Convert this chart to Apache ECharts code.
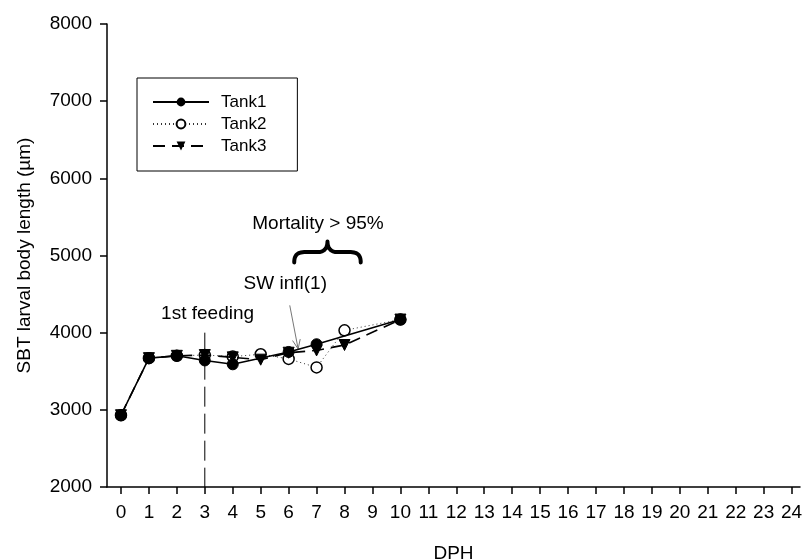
<!DOCTYPE html>
<html>
<head>
<meta charset="utf-8">
<script src="https://cdn.jsdelivr.net/npm/echarts@6/dist/echarts.min.js"></script>
<style>
  html, body { margin: 0; padding: 0; background: #ffffff; }
  #chart { width: 802px; height: 560px; }
</style>
</head>
<body>
<div id="chart"></div>
<script>
// Larval body length by days post hatch (DPH), three rearing tanks
const dph1  = [0, 1, 2, 3, 4, 6, 7, 10];
const tank1 = [2930, 3670, 3700, 3640, 3590, 3750, 3850, 4170];

const dph2  = [0, 1, 2, 3, 4, 5, 6, 7, 8, 10];
const tank2 = [2930, 3670, 3700, 3710, 3690, 3720, 3660, 3550, 4030, 4170];

const dph3  = [0, 1, 2, 3, 4, 5, 6, 7, 8, 10];
const tank3 = [2930, 3670, 3700, 3710, 3680, 3650, 3740, 3770, 3840, 4170];

const dphTicks = [0, 1, 2, 3, 4, 5, 6, 7, 8, 9, 10, 11, 12, 13, 14, 15, 16, 17, 18, 19, 20, 21, 22, 23, 24];

// first feeding marker (day, from length, to length)
const feedingDay = 3;
const feedingSpan = [4000, 2000];

// text notes placed in data units (day, length)
const noteTexts = ['1st feeding', 'SW infl(1)', 'Mortality > 95%'];
const noteDays = [3.1, 5.88, 7.05];
const noteLengths = [4250, 4640, 5405];

// swim-bladder inflation arrow and mortality brace, in data units
const arrowFrom = [6.04, 4354];
const arrowTo = [6.34, 3790];
const braceLeft = [6.2, 4910];
const braceRight = [8.58, 5180];

const FONT = '"Liberation Sans", Arial, sans-serif';
const pairs = (xs, ys) => xs.map((x, i) => [x, ys[i]]);

const chart = echarts.init(document.getElementById('chart'), null, { renderer: 'canvas' });

chart.setOption({
  animation: false,
  backgroundColor: '#ffffff',
  textStyle: { fontFamily: FONT, color: '#000' },
  grid: { left: 107, right: 2, top: 24, bottom: 73, containLabel: false, outerBoundsMode: 'none' },
  legend: {
    data: ['Tank1', 'Tank2', 'Tank3'],
    orient: 'vertical',
    left: 137, top: 78,
    itemWidth: 56, itemHeight: 11, itemGap: 4,
    padding: [15, 31, 16, 15],
    borderColor: '#000', borderWidth: 1,
    textStyle: { fontFamily: FONT, fontSize: 17, lineHeight: 18, color: '#000', padding: [0, 0, 0, 7] }
  },
  xAxis: {
    type: 'value', min: -0.5, max: 24.3,
    name: 'DPH', nameLocation: 'middle', nameGap: 57,
    nameTextStyle: { fontFamily: FONT, fontSize: 19, color: '#000' },
    axisLine: { show: true, onZero: false, lineStyle: { color: '#000', width: 1.5 } },
    axisTick: { show: true, length: 7, lineStyle: { color: '#000', width: 1.5 }, customValues: dphTicks },
    axisLabel: { fontFamily: FONT, fontSize: 19, color: '#000', margin: 16, customValues: dphTicks },
    splitLine: { show: false }
  },
  yAxis: {
    type: 'value', min: 2000, max: 8000, interval: 1000,
    name: 'SBT larval body length (µm)', nameLocation: 'middle', nameGap: 73,
    nameTextStyle: { fontFamily: FONT, fontSize: 19, color: '#000' },
    axisLine: { show: true, onZero: false, lineStyle: { color: '#000', width: 1.5 } },
    axisTick: { show: true, length: 7, lineStyle: { color: '#000', width: 1.5 } },
    axisLabel: { fontFamily: FONT, fontSize: 19, color: '#000', margin: 15, formatter: v => String(v) },
    splitLine: { show: false }
  },
  series: [
    {
      name: 'Tank1', type: 'line', z: 4,
      data: pairs(dph1, tank1),
      symbol: 'circle', symbolSize: 11,
      itemStyle: { color: '#000', borderColor: '#000' },
      lineStyle: { color: '#000', width: 1.6, type: 'solid' }
    },
    {
      name: 'Tank2', type: 'line', z: 2,
      data: pairs(dph2, tank2),
      symbol: 'circle', symbolSize: 11,
      itemStyle: { color: '#fff', borderColor: '#000', borderWidth: 1.5 },
      lineStyle: { color: '#333', width: 1, type: [1, 3] }
    },
    {
      name: 'Tank3', type: 'line', z: 3,
      data: pairs(dph3, tank3),
      symbol: 'triangle', symbolSize: 11, symbolRotate: 180,
      itemStyle: { color: '#000', borderColor: '#000' },
      lineStyle: { color: '#000', width: 1.6, type: [12, 7] }
    },
    {
      name: 'feeding', type: 'line', z: 1,
      data: [[feedingDay, feedingSpan[0]], [feedingDay, feedingSpan[1]]],
      symbol: 'none', silent: true,
      lineStyle: { color: '#000', width: 1, type: [20, 7] }
    }
  ]
});

// Annotations are converted from data units to pixels
function px(pt) { return chart.convertToPixel({ gridIndex: 0 }, pt); }

const graphics = [];
noteTexts.forEach((t, i) => {
  const p = px([noteDays[i], noteLengths[i]]);
  graphics.push({
    type: 'text', x: p[0], y: p[1], silent: true,
    style: { text: t, fontFamily: FONT, fontSize: 19, fill: '#000', align: 'center', verticalAlign: 'middle' }
  });
});

const a0 = px(arrowFrom), a1 = px(arrowTo);
const ang = Math.atan2(a1[1] - a0[1], a1[0] - a0[0]);
const headLen = 10, headSpread = 0.4;
graphics.push({
  type: 'polyline', silent: true,
  shape: { points: [a0, a1] },
  style: { stroke: '#777', lineWidth: 1, fill: null }
});
graphics.push({
  type: 'polyline', silent: true,
  shape: { points: [
    [a1[0] - headLen * Math.cos(ang - headSpread), a1[1] - headLen * Math.sin(ang - headSpread)],
    a1,
    [a1[0] - headLen * Math.cos(ang + headSpread), a1[1] - headLen * Math.sin(ang + headSpread)]
  ] },
  style: { stroke: '#777', lineWidth: 1, fill: null }
});

// Horizontal curly brace: tip up at the centre, ends curling down
const bL = px(braceLeft), bR = px(braceRight);
const bw = bR[0] - bL[0], bh = bL[1] - bR[1];
const bx = f => bL[0] + f * bw, by = f => bR[1] + f * bh;
function cubic(p0, p1, p2, p3, n) {
  const out = [];
  for (let i = 0; i <= n; i++) {
    const t = i / n, u = 1 - t;
    out.push([
      u * u * u * p0[0] + 3 * u * u * t * p1[0] + 3 * u * t * t * p2[0] + t * t * t * p3[0],
      u * u * u * p0[1] + 3 * u * u * t * p1[1] + 3 * u * t * t * p2[1] + t * t * t * p3[1]
    ]);
  }
  return out;
}
const P = (fx, fy) => [bx(fx), by(fy)];
const bracePts = [].concat(
  cubic(P(0, 1), P(0, 0.6), P(0.06, 0.5), P(0.18, 0.5), 12),
  cubic(P(0.36, 0.5), P(0.45, 0.5), P(0.5, 0.3), P(0.5, 0), 12),
  cubic(P(0.5, 0), P(0.5, 0.3), P(0.55, 0.5), P(0.64, 0.5), 12),
  cubic(P(0.82, 0.5), P(0.94, 0.5), P(1, 0.6), P(1, 1), 12)
);
graphics.push({
  type: 'polyline', silent: true,
  shape: { points: bracePts },
  style: { stroke: '#000', lineWidth: 4, fill: null, lineCap: 'round', lineJoin: 'round' }
});

chart.setOption({ graphic: graphics });
</script>
</body>
</html>
